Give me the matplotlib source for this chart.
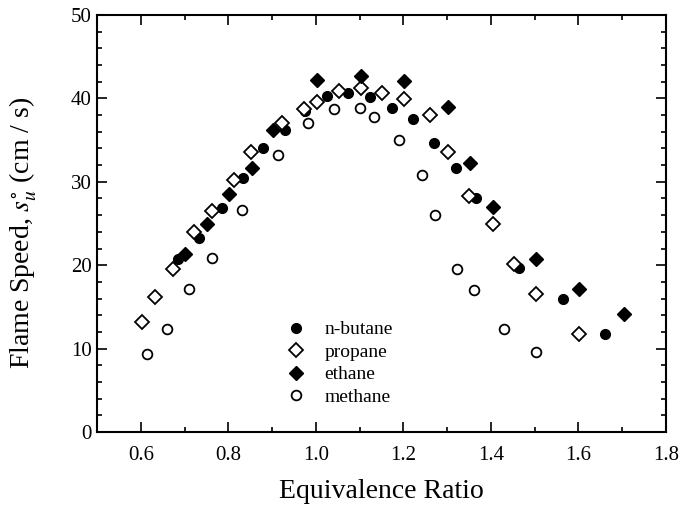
import matplotlib
matplotlib.use("Agg")
import matplotlib.pyplot as plt
from matplotlib.ticker import MultipleLocator

plt.rcParams['font.family'] = ['Liberation Serif', 'DejaVu Serif']
plt.rcParams['mathtext.fontset'] = 'stix'

butane_x = [0.686, 0.734, 0.785, 0.833, 0.879, 0.930, 0.975, 1.026, 1.074, 1.124,
            1.174, 1.222, 1.270, 1.320, 1.366, 1.465, 1.564, 1.661]
butane_y = [20.7, 23.3, 26.8, 30.5, 34.0, 36.2, 38.5, 40.3, 40.6, 40.2,
            38.9, 37.5, 34.7, 31.6, 28.0, 19.7, 15.9, 11.8]

propane_x = [0.602, 0.633, 0.673, 0.722, 0.763, 0.812, 0.852, 0.922, 0.972, 1.002,
             1.052, 1.103, 1.152, 1.202, 1.261, 1.302, 1.351, 1.404, 1.452, 1.503, 1.602]
propane_y = [13.2, 16.2, 19.5, 24.0, 26.5, 30.2, 33.6, 37.1, 38.7, 39.6,
             40.9, 41.3, 40.7, 39.9, 38.0, 33.6, 28.3, 24.9, 20.1, 16.5, 11.8]

ethane_x = [0.701, 0.751, 0.802, 0.854, 0.901, 1.002, 1.103, 1.202, 1.301, 1.353,
            1.404, 1.503, 1.602, 1.703]
ethane_y = [21.4, 25.0, 28.5, 31.7, 36.2, 42.2, 42.7, 42.1, 39.0, 32.2,
            27.0, 20.8, 17.1, 14.1]

methane_x = [0.614, 0.661, 0.711, 0.762, 0.832, 0.913, 0.981, 1.042, 1.101, 1.132,
             1.191, 1.242, 1.273, 1.322, 1.362, 1.431, 1.503]
methane_y = [9.35, 12.4, 17.2, 20.9, 26.6, 33.2, 37.0, 38.7, 38.8, 37.8,
             35.0, 30.8, 26.0, 19.6, 17.0, 12.4, 9.6]

labels = ["n-butane", "propane", "ethane", "methane"]
x_ticks = [0.6, 0.8, 1.0, 1.2, 1.4, 1.6, 1.8]
x_tick_labels = ["0.6", "0.8", "1.0", "1.2", "1.4", "1.6", "1.8"]
y_ticks = [0, 10, 20, 30, 40, 50]

fig = plt.figure(figsize=(6.9, 5.09), dpi=100)
ax = fig.add_axes([0.1406, 0.1513, 0.8246, 0.8192])

ms_c = 7.0
ms_d = 6.8
ax.plot(butane_x, butane_y, 'o', ms=ms_c, mfc='black', mec='black', label=labels[0])
ax.plot(propane_x, propane_y, 'D', ms=ms_d, mfc='white', mec='black', mew=1.3, label=labels[1])
ax.plot(ethane_x, ethane_y, 'D', ms=ms_d, mfc='black', mec='black', label=labels[2])
ax.plot(methane_x, methane_y, 'o', ms=ms_c, mfc='white', mec='black', mew=1.3, label=labels[3])

ax.set_xlim(0.5, 1.8)
ax.set_ylim(0, 50)
ax.set_xticks(x_ticks)
ax.set_xticklabels(x_tick_labels)
ax.set_yticks(y_ticks)
ax.xaxis.set_minor_locator(MultipleLocator(0.1))
ax.yaxis.set_minor_locator(MultipleLocator(2))
ax.tick_params(which='both', direction='in', top=True, right=True, labelsize=15, width=1.2)
ax.tick_params(which='major', length=7)
ax.tick_params(which='minor', length=3.5)
ax.tick_params(axis='x', which='major', pad=10)
ax.tick_params(axis='y', which='major', pad=4)
for s in ax.spines.values():
    s.set_linewidth(1.5)

ax.set_xlabel("Equivalence Ratio", fontsize=20, labelpad=10)
ax.set_ylabel(r"Flame Speed, $s_u^{\circ}$ (cm / s)", fontsize=20)
ax.yaxis.set_label_coords(-0.102, 0.477)

leg = ax.legend(loc='lower left', bbox_to_anchor=(0.309, 0.03), frameon=False,
                fontsize=14, handletextpad=0.95, labelspacing=0.25, handlelength=1.0,
                borderpad=0.2)

fig.savefig("out.png", dpi=100)
